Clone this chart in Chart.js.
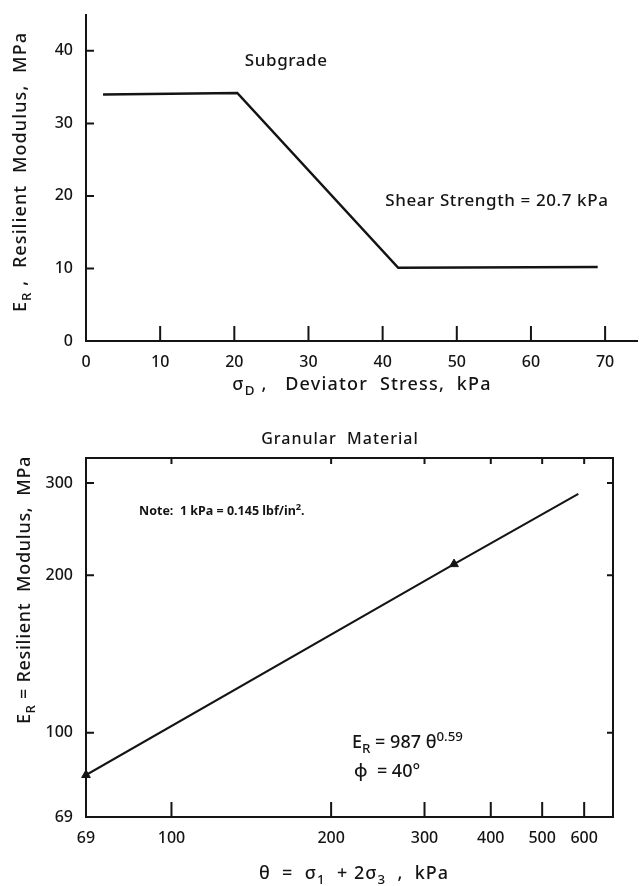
<!DOCTYPE html>
<html>
<head>
<meta charset="utf-8">
<script src="https://cdn.jsdelivr.net/npm/chart.js@4.4.0/dist/chart.umd.min.js"></script>
<style>
  body { margin: 0; background: #fff; width: 642px; height: 886px; position: relative; overflow: hidden; }
  canvas { position: absolute; left: 0; }
  #subgrade-chart { top: 0; }
  #granular-chart { top: 420px; }
</style>
</head>
<body>
<canvas id="subgrade-chart" width="642" height="420"></canvas>
<canvas id="granular-chart" width="642" height="466"></canvas>
<script>
// Subgrade: resilient modulus vs deviator stress
const deviatorStress = [2.3, 20.4, 42.1, 69.0];
const subgradeModulus = [34.0, 34.2, 10.1, 10.2];
const deviatorTicks = [0, 10, 20, 30, 40, 50, 60, 70];
const subgradeModulusTicks = [0, 10, 20, 30, 40];

// Granular material: resilient modulus vs bulk stress (log-log)
const bulkStress = [69, 341, 585];
const granularModulus = [83, 210, 286];
const testBulkStress = [69, 341];
const testModulus = [83, 210];
const bulkStressTicks = [69, 100, 200, 300, 400, 500, 600];
const granularModulusTicks = [69, 100, 200, 300];

const INK = "#141414";
const FONT = "'Noto Sans', sans-serif";
const WEIGHT = "500";

Chart.defaults.font.family = FONT;
Chart.defaults.font.weight = WEIGHT;
Chart.defaults.color = INK;

function toPoints(xs, ys) {
  return xs.map((x, i) => ({ x, y: ys[i] }));
}

function fixedTicks(values) {
  return (scale) => {
    scale.ticks = values.map((v) => ({ value: v }));
  };
}

// text with sub/superscripts, y = optical centre of the line
function drawRich(ctx, parts, x, y, size, opts) {
  opts = opts || {};
  ctx.save();
  ctx.translate(x, y);
  if (opts.rotate) ctx.rotate(opts.rotate);
  ctx.fillStyle = INK;
  ctx.textBaseline = "alphabetic";
  ctx.textAlign = "left";
  ctx.letterSpacing = (opts.spacing || 0) + "px";
  const weight = opts.weight || WEIGHT;
  const fontFor = (p) => weight + " " + (p[1] ? size * 0.74 : size) + "px " + FONT;
  let w = 0;
  parts.forEach((p) => {
    ctx.font = fontFor(p);
    w += ctx.measureText(p[0]).width;
  });
  let cx = opts.align === "left" ? 0 : -w / 2;
  parts.forEach((p) => {
    ctx.font = fontFor(p);
    const dy = p[1] === "sub" ? size * 0.24 : p[1] === "sup" ? -size * 0.4 : 0;
    ctx.fillText(p[0], cx, dy + size * 0.36);
    cx += ctx.measureText(p[0]).width;
  });
  ctx.restore();
}

// tick marks drawn inside the plot, like the original drawing
const inwardTicks = {
  id: "inwardTicks",
  afterDraw(chart, args, opts) {
    const ctx = chart.ctx;
    const a = chart.chartArea;
    const xs = chart.scales.x;
    const ys = chart.scales.y;
    ctx.save();
    ctx.strokeStyle = INK;
    ctx.lineWidth = 2;
    ctx.beginPath();
    xs.ticks.forEach((t) => {
      const px = xs.getPixelForValue(t.value);
      if (px - a.left < 3) return;
      ctx.moveTo(px, a.bottom);
      ctx.lineTo(px, a.bottom - opts.bottom);
      if (opts.top) {
        ctx.moveTo(px, a.top);
        ctx.lineTo(px, a.top + opts.top);
      }
    });
    ys.ticks.forEach((t) => {
      const py = ys.getPixelForValue(t.value);
      if (a.bottom - py < 3) return;
      ctx.moveTo(a.left, py);
      ctx.lineTo(a.left + opts.left, py);
      if (opts.right) {
        ctx.moveTo(a.right, py);
        ctx.lineTo(a.right - opts.right, py);
      }
    });
    ctx.stroke();
    if (opts.box) ctx.strokeRect(a.left, a.top, a.width, a.height);
    ctx.restore();
  },
};

const subgradeText = {
  id: "subgradeText",
  afterDraw(chart) {
    const ctx = chart.ctx;
    const xs = chart.scales.x;
    const ys = chart.scales.y;
    drawRich(ctx, [["Subgrade"]], xs.getPixelForValue(27), ys.getPixelForValue(38.8), 17, { spacing: 0.6 });
    drawRich(ctx, [["Shear Strength = 20.7 kPa"]], xs.getPixelForValue(55.4), ys.getPixelForValue(19.4), 17, { spacing: 0.6 });
    drawRich(ctx, [["E"], ["R", "sub"], [" ,  Resilient  Modulus,  MPa"]], 20, 172, 18, { rotate: -Math.PI / 2, spacing: 1.1 });
    drawRich(ctx, [["σ"], ["D", "sub"], [" ,   Deviator  Stress,  kPa"]], 362, 384, 18, { spacing: 1.2 });
  },
};

const granularText = {
  id: "granularText",
  afterDraw(chart) {
    const ctx = chart.ctx;
    drawRich(ctx, [["Granular  Material"]], 340, 18, 16, { spacing: 1 });
    drawRich(ctx, [["E"], ["R", "sub"], [" = Resilient  Modulus,  MPa"]], 24, 170, 18, { rotate: -Math.PI / 2, spacing: 0.7 });
    drawRich(ctx, [["θ  =  σ"], ["1", "sub"], ["  + 2σ"], ["3", "sub"], ["  ,  kPa"]], 354, 453, 18, { spacing: 1 });
    drawRich(ctx, [["Note:  1 kPa = 0.145 lbf/in"], ["2", "sup"], ["."]], 139, 90, 12.5, { align: "left", weight: "bold" });
    drawRich(ctx, [["E"], ["R", "sub"], [" = 987 θ"], ["0.59", "sup"]], 352, 322, 18, { align: "left" });
    drawRich(ctx, [["ϕ  = 40°"]], 354, 351, 18, { align: "left" });
  },
};

// Subgrade chart
new Chart(document.getElementById("subgrade-chart"), {
  type: "scatter",
  data: {
    datasets: [
      {
        label: "Subgrade",
        data: toPoints(deviatorStress, subgradeModulus),
        showLine: true,
        borderColor: INK,
        borderWidth: 2.5,
        pointRadius: 0,
        tension: 0,
      },
    ],
  },
  options: {
    responsive: false,
    animation: false,
    devicePixelRatio: 1,
    layout: { padding: { left: 0, top: 7, right: 5, bottom: 0 } },
    plugins: {
      legend: { display: false },
      tooltip: { enabled: false },
      inwardTicks: { bottom: 15, left: 8 },
    },
    scales: {
      x: {
        type: "linear",
        min: 0,
        max: 74.3,
        afterBuildTicks: fixedTicks(deviatorTicks),
        afterFit: (s) => { s.height = 79; },
        grid: { display: false },
        border: { color: INK, width: 2 },
        ticks: { padding: 4, font: { size: 16 }, color: INK },
      },
      y: {
        type: "linear",
        min: 0,
        max: 45,
        afterBuildTicks: fixedTicks(subgradeModulusTicks),
        afterFit: (s) => { s.width = 86; },
        grid: { display: false },
        border: { color: INK, width: 2 },
        ticks: { padding: 5, font: { size: 16 }, color: INK },
      },
    },
  },
  plugins: [inwardTicks, subgradeText],
});

// Granular material chart
new Chart(document.getElementById("granular-chart"), {
  type: "scatter",
  data: {
    datasets: [
      {
        label: "ER = 987 θ^0.59",
        data: toPoints(bulkStress, granularModulus),
        showLine: true,
        borderColor: INK,
        borderWidth: 2,
        pointRadius: 0,
        tension: 0,
      },
      {
        label: "Test points",
        data: toPoints(testBulkStress, testModulus),
        pointStyle: "triangle",
        pointRadius: 5,
        backgroundColor: INK,
        borderColor: INK,
        clip: false,
      },
    ],
  },
  options: {
    responsive: false,
    animation: false,
    devicePixelRatio: 1,
    layout: { padding: { left: 0, top: 38, right: 29, bottom: 0 } },
    plugins: {
      legend: { display: false },
      tooltip: { enabled: false },
      inwardTicks: { bottom: 15, top: 6, left: 8, right: 6, box: true },
    },
    scales: {
      x: {
        type: "logarithmic",
        min: 69,
        max: 680,
        afterBuildTicks: fixedTicks(bulkStressTicks),
        afterFit: (s) => { s.height = 69; },
        grid: { display: false },
        border: { color: INK, width: 2 },
        ticks: { padding: 4, font: { size: 16 }, color: INK, callback: (v) => String(v) },
      },
      y: {
        type: "logarithmic",
        min: 69,
        max: 335,
        afterBuildTicks: fixedTicks(granularModulusTicks),
        afterFit: (s) => { s.width = 86; },
        grid: { display: false },
        border: { color: INK, width: 2 },
        ticks: { padding: 5, font: { size: 16 }, color: INK, callback: (v) => String(v) },
      },
    },
  },
  plugins: [inwardTicks, granularText],
});
</script>
</body>
</html>
